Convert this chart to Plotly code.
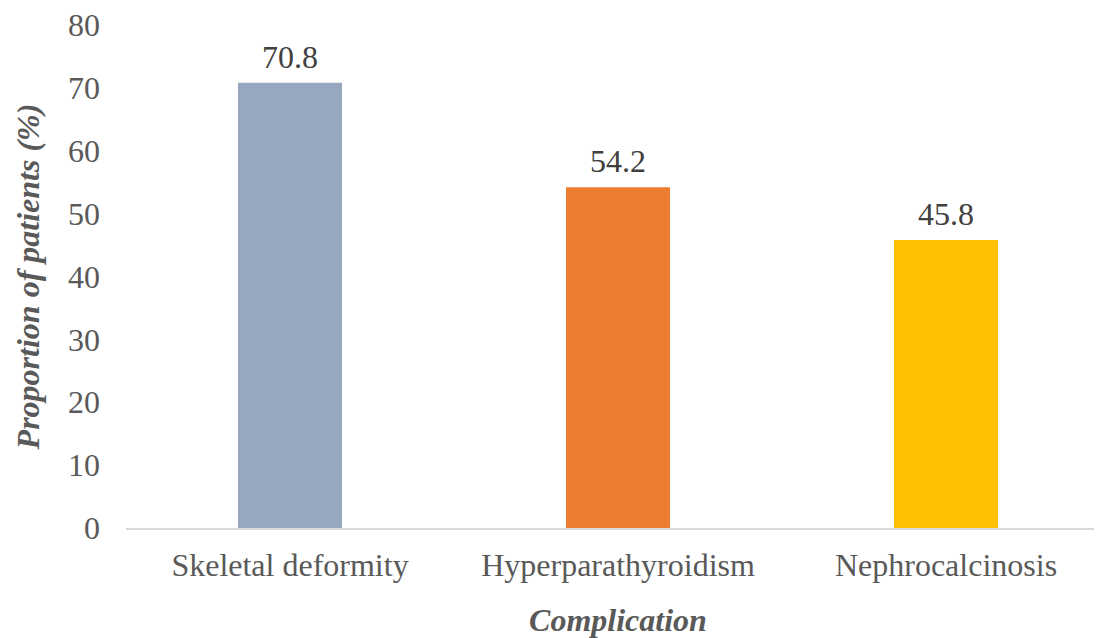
import plotly.graph_objects as go

categories = ["Skeletal deformity", "Hyperparathyroidism", "Nephrocalcinosis"]
values = [70.8, 54.2, 45.8]
colors = ["#97A7BF", "#ED7D31", "#FFC000"]
y_ticks = [0, 10, 20, 30, 40, 50, 60, 70, 80]

FONT = "Liberation Serif, Times New Roman, serif"
TXT = "#595959"
FS = 32

fig = go.Figure(go.Bar(
    x=categories, y=values,
    marker=dict(color=colors, line=dict(width=0)),
    cliponaxis=False,
))

for c, v in zip(categories, values):
    fig.add_annotation(x=c, y=v, text=f"{v:.1f}", showarrow=False,
                       yanchor="bottom", yshift=6,
                       font=dict(family=FONT, size=FS, color="#404040"))

fig.update_layout(
    width=1102, height=638,
    margin=dict(l=118, r=0, t=17, b=118),
    paper_bgcolor="white", plot_bgcolor="white",
    bargap=0.683,
    showlegend=False,
    font=dict(family=FONT, size=FS, color=TXT),
)
fig.update_xaxes(
    automargin=False,
    range=[-0.5, 2.5],
    showline=True, linecolor="#D9D9D9", linewidth=1.5,
    showgrid=False, ticks="", ticklabelstandoff=8,
    tickfont=dict(size=FS, color=TXT),
    title=dict(text="<b><i>Complication</i></b>", font=dict(size=FS, color=TXT), standoff=26),
)
fig.update_yaxes(
    automargin=False,
    range=[0, 80], tickvals=y_ticks, showgrid=False, zeroline=False,
    showline=False, ticks="", ticklabelstandoff=25,
    ticklabeloverflow="allow",
    tickfont=dict(size=FS, color=TXT),
    title=dict(text="<b><i>Proportion of patients (%)</i></b>", font=dict(size=FS, color=TXT), standoff=18),
)

fig.write_html("out.html")
